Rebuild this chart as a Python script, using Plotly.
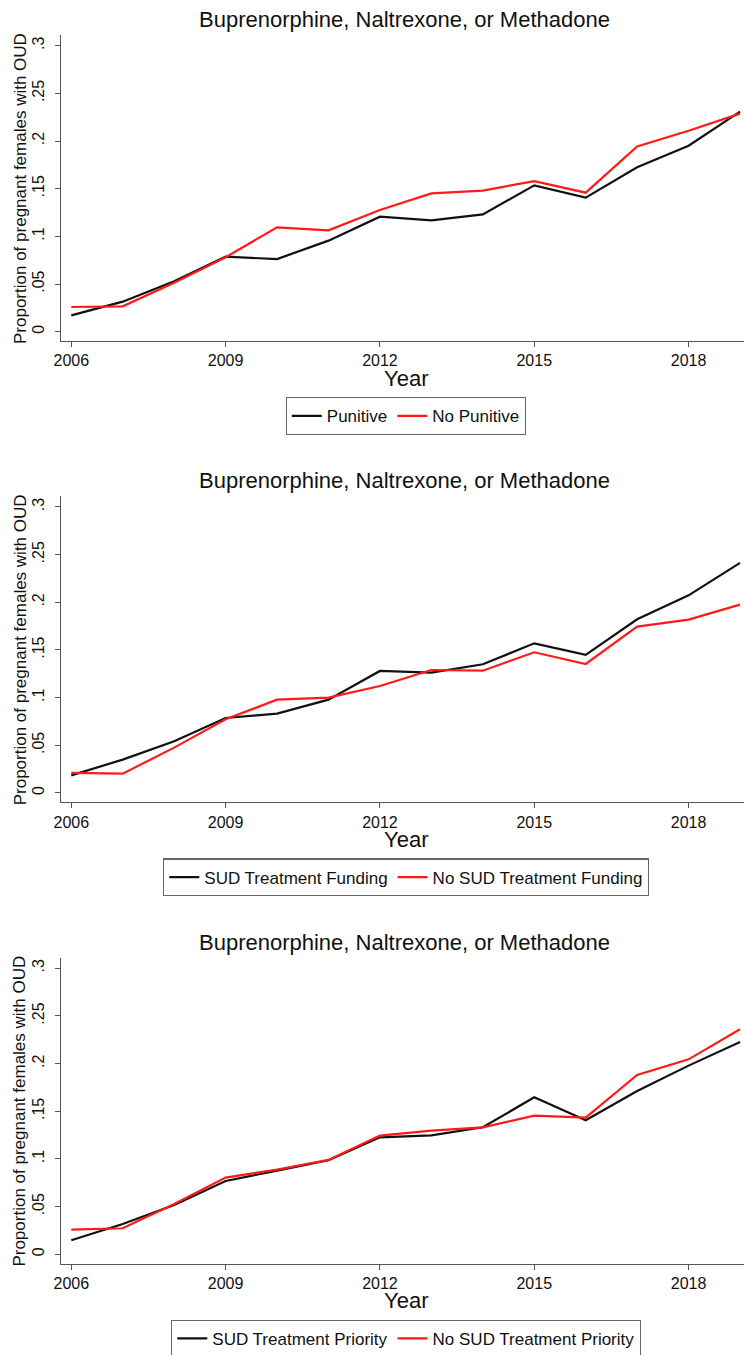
import plotly.graph_objects as go

W, H = 744, 1355

years = list(range(2006, 2020))
tick_years = [2006, 2009, 2012, 2015, 2018]
y_tickvals = [0, 0.05, 0.1, 0.15, 0.2, 0.25, 0.3]
y_ticktext = ["0", ".05", ".1", ".15", ".2", ".25", ".3"]

title_text = "Buprenorphine, Naltrexone, or Methadone"
y_title = "Proportion of pregnant females with OUD"
x_title = "Year"

# Panel 1
punitive = [0.0171, 0.0315, 0.0530, 0.0787, 0.0762, 0.0955, 0.1206, 0.1168, 0.1230, 0.1535, 0.1406, 0.1724, 0.1950, 0.2308]
no_punitive = [0.0259, 0.0266, 0.0514, 0.0780, 0.1094, 0.1063, 0.1276, 0.1451, 0.1479, 0.1580, 0.1458, 0.1944, 0.2108, 0.2287]
# Panel 2
sud_funding = [0.0185, 0.0350, 0.0542, 0.0787, 0.0832, 0.0979, 0.1280, 0.1262, 0.1350, 0.1570, 0.1448, 0.1822, 0.2073, 0.2413]
no_sud_funding = [0.0210, 0.0203, 0.0476, 0.0773, 0.0979, 0.1000, 0.1122, 0.1290, 0.1283, 0.1476, 0.1353, 0.1745, 0.1818, 0.1976]
# Panel 3
sud_priority = [0.0147, 0.0318, 0.0517, 0.0769, 0.0878, 0.0986, 0.1227, 0.1248, 0.1332, 0.1647, 0.1406, 0.1713, 0.1979, 0.2227]
no_sud_priority = [0.0259, 0.0273, 0.0528, 0.0804, 0.0888, 0.0990, 0.1245, 0.1297, 0.1332, 0.1455, 0.1434, 0.1881, 0.2045, 0.2360]

panels = [
    ("Punitive", punitive, "No Punitive", no_punitive),
    ("SUD Treatment Funding", sud_funding, "No SUD Treatment Funding", no_sud_funding),
    ("SUD Treatment Priority", sud_priority, "No SUD Treatment Priority", no_sud_priority),
]

FONT = "Liberation Sans, Arial, Helvetica, sans-serif"
AXC = "#555555"
BLACK = "#111111"
RED = "#ff1a1a"

PANEL_STEP = 461.3
AX_LEFT = 61
X_RANGE = [2005.80, 2019.077]
Y_RANGE = [-0.00976, 0.3112]

def py(pix):
    return 1 - pix / H

fig = go.Figure()
layout = dict(
    width=W, height=H,
    margin=dict(l=0, r=0, t=0, b=0, pad=0, autoexpand=False),
    paper_bgcolor="white", plot_bgcolor="white",
    showlegend=True,
    font=dict(family=FONT, color=BLACK),
    annotations=[],
)

for i, (n1, v1, n2, v2) in enumerate(panels):
    o = i * PANEL_STEP
    sfx = "" if i == 0 else str(i + 1)
    leg = "legend" if i == 0 else f"legend{i + 1}"
    fig.add_trace(go.Scatter(x=years, y=v1, mode="lines", name=n1,
                             line=dict(color=BLACK, width=2.2),
                             xaxis="x" + sfx, yaxis="y" + sfx, legend=leg))
    fig.add_trace(go.Scatter(x=years, y=v2, mode="lines", name=n2,
                             line=dict(color=RED, width=2.2),
                             xaxis="x" + sfx, yaxis="y" + sfx, legend=leg))
    layout["xaxis" + sfx] = dict(
        domain=[AX_LEFT / W, 1], range=X_RANGE, anchor="y" + sfx, automargin=False,
        tickvals=tick_years, ticks="outside", ticklen=5, tickwidth=1.2, tickcolor=AXC,
        showline=True, linecolor=AXC, linewidth=1.3, showgrid=False, zeroline=False,
        tickfont=dict(family=FONT, size=16, color=BLACK),
    )
    layout["yaxis" + sfx] = dict(
        domain=[py(341 + o), py(35 + o)], range=Y_RANGE, anchor="x" + sfx, automargin=False,
        tickvals=y_tickvals, ticktext=y_ticktext, tickangle=-90,
        ticks="outside", ticklen=5, tickwidth=1.2, tickcolor=AXC, ticklabelstandoff=4,
        showline=True, linecolor=AXC, linewidth=1.3, showgrid=False, zeroline=False,
        tickfont=dict(family=FONT, size=16, color=BLACK),
    )
    layout[leg] = dict(
        orientation="h", x=406 / W, xanchor="center",
        y=py(416 + o), yanchor="middle",
        bgcolor="white", bordercolor="#666666", borderwidth=1.3,
        font=dict(family=FONT, size=17, color=BLACK),
    )
    layout["annotations"] += [
        dict(text=title_text, x=404 / W, y=py(19.5 + o), xref="paper", yref="paper",
             xanchor="center", yanchor="middle", showarrow=False,
             font=dict(family=FONT, size=22, color=BLACK)),
        dict(text=x_title, x=406 / W, y=py(378 + o), xref="paper", yref="paper",
             xanchor="center", yanchor="middle", showarrow=False,
             font=dict(family=FONT, size=22, color=BLACK)),
        dict(text=y_title, x=20 / W, y=py(189 + o), xref="paper", yref="paper",
             xanchor="center", yanchor="middle", showarrow=False, textangle=-90,
             font=dict(family=FONT, size=17, color=BLACK)),
    ]

fig.update_layout(**layout)
fig.write_html(
    "out.html",
    config={"displayModeBar": False},
    post_script="document.body.style.margin='0';document.body.style.overflow='hidden';",
)
